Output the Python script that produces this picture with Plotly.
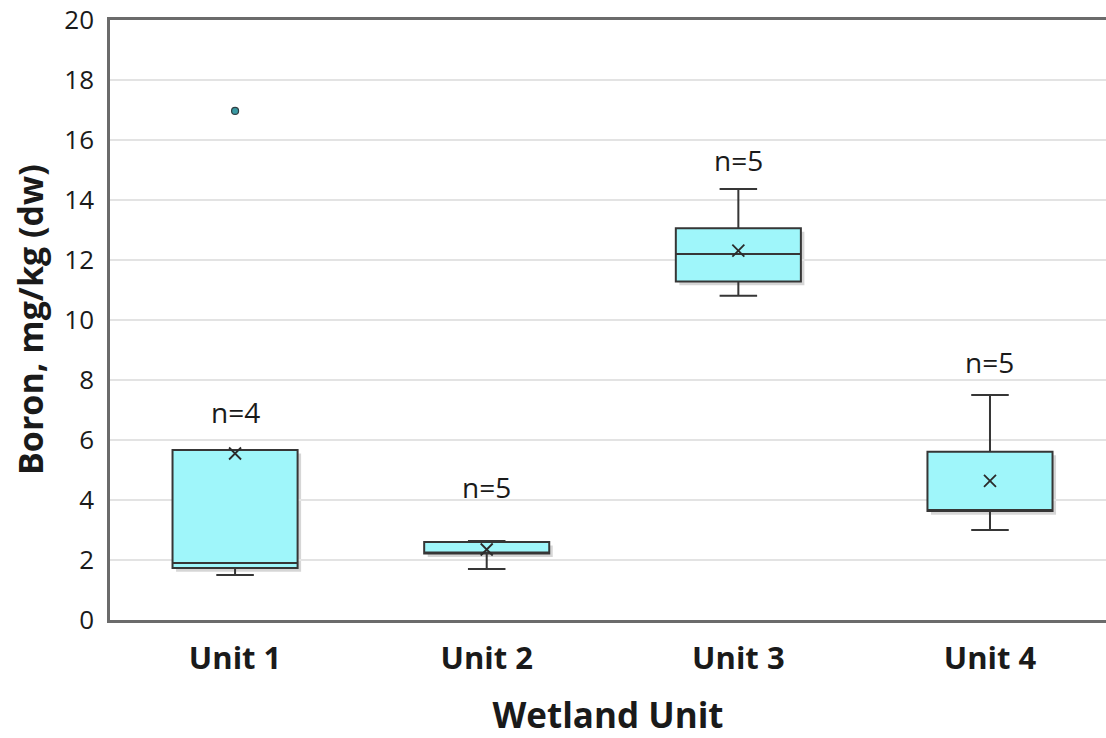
import plotly.graph_objects as go

# Boron concentrations in wetland sediment, summary statistics per unit
units = ["Unit 1", "Unit 2", "Unit 3", "Unit 4"]
positions = [1, 2, 3, 4]
q1 = [1.73, 2.22, 11.28, 3.63]
median = [1.90, 2.22, 12.20, 3.63]
q3 = [5.67, 2.60, 13.06, 5.61]
lower_whisker = [1.50, 1.70, 10.81, 3.00]
upper_whisker = [5.67, 2.63, 14.37, 7.50]
means = [5.55, 2.35, 12.31, 4.64]
sample_sizes = [4, 5, 5, 5]
label_y = [6.93, 4.43, 15.33, 8.60]

outlier_x = [1]
outlier_y = [16.97]

FILL = "#9ff6fa"
EDGE = "#363636"
AXIS = "#6b6b6b"
FONT = "Open Sans"
BOX_W = 0.497

fig = go.Figure()

# soft drop shadow behind each box
for xp, lo, hi in zip(positions, q1, q3):
    fig.add_shape(
        type="rect",
        x0=xp - BOX_W / 2 + 0.014, x1=xp + BOX_W / 2 + 0.014,
        y0=lo - 0.12, y1=hi - 0.12,
        xref="x", yref="y",
        fillcolor="rgba(0,0,0,0.16)", line=dict(width=0),
        layer="below",
    )

fig.add_trace(go.Box(
    x=positions,
    q1=q1, median=median, q3=q3,
    lowerfence=lower_whisker, upperfence=upper_whisker,
    width=BOX_W,
    whiskerwidth=0.3,
    fillcolor=FILL,
    line=dict(color=EDGE, width=2),
    boxpoints=False,
    showlegend=False,
    hoverinfo="skip",
))

# mean markers
fig.add_trace(go.Scatter(
    x=positions, y=means, mode="markers",
    marker=dict(symbol="x-thin", size=12, line=dict(color="#2b2b2b", width=1.8)),
    showlegend=False, hoverinfo="skip",
))

# outlier
fig.add_trace(go.Scatter(
    x=outlier_x, y=outlier_y, mode="markers",
    marker=dict(symbol="circle", size=7, color="#3a9aa3",
                line=dict(color="#2f3f44", width=1.2)),
    showlegend=False, hoverinfo="skip",
))

# sample-size labels
for xp, yv, n in zip(positions, label_y, sample_sizes):
    fig.add_annotation(
        x=xp, y=yv, text=f"n={n}", showarrow=False,
        font=dict(family=FONT, size=28, color="#1a1a1a"),
        xanchor="center", yanchor="middle",
    )

# vertical axis title
fig.add_annotation(
    x=0, y=0.5, xref="paper", yref="paper",
    xanchor="center", yanchor="middle", xshift=-80,
    text="Boron, mg/kg (dw)", textangle=-90, showarrow=False,
    font=dict(family=FONT, size=34, color="#1a1a1a", weight="bold"),
)

fig.update_layout(
    width=1106, height=738,
    margin=dict(l=110, r=0, t=20, b=118),
    paper_bgcolor="white", plot_bgcolor="white",
    font=dict(family=FONT, color="#1a1a1a"),
)

fig.update_xaxes(
    range=[0.503, 4.461],
    tickvals=positions, ticktext=units,
    tickfont=dict(family=FONT, size=31, color="#1a1a1a", weight="bold"),
    showgrid=False, zeroline=False,
    showline=True, linecolor=AXIS, linewidth=2.5, mirror=True,
    ticks="", ticklabelstandoff=9,
    title=dict(text="Wetland Unit", font=dict(family=FONT, size=35, color="#1a1a1a", weight="bold"),
               standoff=28),
)

fig.update_yaxes(
    range=[0, 20], dtick=2,
    tickfont=dict(family=FONT, size=26, color="#1a1a1a"),
    showgrid=True, gridcolor="#e3e3e3", gridwidth=1.5,
    zeroline=False,
    showline=True, linecolor=AXIS, linewidth=2.5,
    ticks="", ticklabelstandoff=8,
)

fig.write_html("out.html")
